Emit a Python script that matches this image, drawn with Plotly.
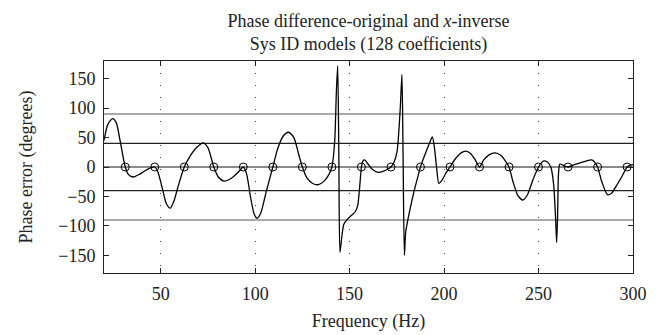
import plotly.graph_objects as go

# Phase error curve (frequency in Hz, phase error in degrees)
freq = [20, 22, 24.5, 26.5, 28.5, 31.25, 33, 35.5, 39, 43, 46.875, 48.5, 51, 53, 55, 57, 59.5,
        62.5, 65.5, 69, 72.5, 75, 78.125, 80.5, 83.5, 87, 91, 93.75, 95.5, 97.5, 99.5, 101, 103,
        106, 109.375, 112, 115, 117.7, 120.5, 123, 125, 127.5, 130.5, 133.5, 136.5, 139, 140.625,
        142.1, 143.0, 143.7, 144.3, 144.9, 146, 147, 149, 151, 153, 154.3, 155.3, 156.25,
        157, 158, 159.5, 162, 165, 168, 170.5, 171.875, 173.5, 175.1, 176.8, 177.7, 178.3,
        179.0, 179.7, 181.2, 183.9, 186, 187.5, 190, 192.5, 193.8, 195, 196, 197.3, 199, 201,
        203.125, 206, 209, 211.5, 214, 216.5, 218.75, 221, 224, 227, 230, 232.5, 234.375,
        236.5, 239, 241.7, 244, 247, 250, 252.5, 254.5, 256.5, 258, 259.2, 259.6, 260.1, 260.6,
        261.3, 263, 265.625, 269, 272, 275, 278, 279.5, 281.25, 283.5, 286.5, 288.5, 291, 294,
        296.875, 298.5, 300]
phase = [45, 72, 82, 75, 45, 0, -13, -17, -12, -4, 0, -8, -38, -62, -70, -58, -30,
         0, 18, 33, 41, 33, 0, -17, -24, -20, -9, 0, -12, -50, -80, -87, -78,
         -40, 0, 32, 53, 59, 50, 22, 0, -19, -28, -30, -24, -13, 0,
         43, 128, 172, 20, -145, -115, -97, -88, -82, -76, -65, -35, 0,
         10, 12, 6, -4, -9, -7, -3, 0, 8, 26, 99, 157, 20,
         -150, -110, -84, -44, -18, 0, 22, 42, 51, 30, 0, -28, -22, -10,
         0, 14, 24, 27, 23, 12, 0, 12, 21, 24, 20, 10, 0,
         -25, -48, -56, -48, -22, 0, 10, 9, 0, -30, -100, -128, -80, -10,
         5, 3, 0, 4, 7, 10, 12, 9, 0, -25, -47, -45, -33, -17,
         0, 3, 4]

# Zero-crossing markers (frequency bins)
circle_freq = [31.25, 46.875, 62.5, 78.125, 93.75, 109.375, 125, 140.625, 156.25,
               171.875, 187.5, 203.125, 218.75, 234.375, 250, 265.625, 281.25, 296.875]
circle_phase = [0] * len(circle_freq)

# Reference levels (degrees)
outer_levels = [90, -90]
inner_levels = [40, -40]
zero_level = [0]

x_ticks = [50, 100, 150, 200, 250, 300]
y_ticks = [-150, -100, -50, 0, 50, 100, 150]

FONT = "Liberation Serif"
FS = 18

fig = go.Figure()

shapes = []
for lv in zero_level:
    shapes.append(dict(type="line", xref="paper", x0=0, x1=1, yref="y", y0=lv, y1=lv,
                       line=dict(color="#8a8a8a", width=2), layer="below"))
for lv in outer_levels:
    shapes.append(dict(type="line", xref="paper", x0=0, x1=1, yref="y", y0=lv, y1=lv,
                       line=dict(color="#555555", width=1.2), layer="below"))
for lv in inner_levels:
    shapes.append(dict(type="line", xref="paper", x0=0, x1=1, yref="y", y0=lv, y1=lv,
                       line=dict(color="#222222", width=1.2), layer="below"))

fig.add_trace(go.Scatter(x=freq, y=phase, mode="lines",
                         line=dict(color="black", width=1.3, shape="spline", smoothing=0.7),
                         showlegend=False, hoverinfo="skip"))
fig.add_trace(go.Scatter(x=circle_freq, y=circle_phase, mode="markers",
                         marker=dict(symbol="circle-open", size=8, color="black",
                                     line=dict(width=1, color="black")),
                         showlegend=False, hoverinfo="skip"))

fig.update_layout(
    width=664, height=335,
    margin=dict(l=104, r=31, t=61, b=62),
    paper_bgcolor="white", plot_bgcolor="white",
    font=dict(family=FONT, size=FS, color="#222222"),
    title=dict(text="Phase difference-original and <i>x</i>-inverse<br>Sys ID models (128 coefficients)",
               x=0.5, xref="paper", xanchor="center",
               y=0.92, yref="container", yanchor="bottom",
               font=dict(family=FONT, size=FS, color="#222222")),
    shapes=shapes,
)
fig.update_xaxes(range=[20, 300], tickvals=x_ticks, ticks="inside", ticklen=5,
                 tickcolor="#222", showline=True, linecolor="#222", linewidth=1,
                 mirror="allticks", showgrid=True, gridcolor="#444", gridwidth=1,
                 griddash="1px,11px", zeroline=False, ticklabelstandoff=4, automargin=False,
                 title=dict(text="Frequency (Hz)", standoff=11, font=dict(size=FS)),
                 tickfont=dict(size=FS))
fig.update_yaxes(range=[-180, 180], tickvals=y_ticks, ticktext=[str(v).replace("-", "\u2212") for v in y_ticks],
                 ticks="inside", ticklen=5,
                 tickcolor="#222", showline=True, linecolor="#222", linewidth=1,
                 mirror="allticks", showgrid=False, zeroline=False, ticklabelstandoff=4, automargin=False,
                 title=dict(text="Phase error (degrees)", standoff=20, font=dict(size=FS)),
                 tickfont=dict(size=FS))

fig.write_html("out.html")
